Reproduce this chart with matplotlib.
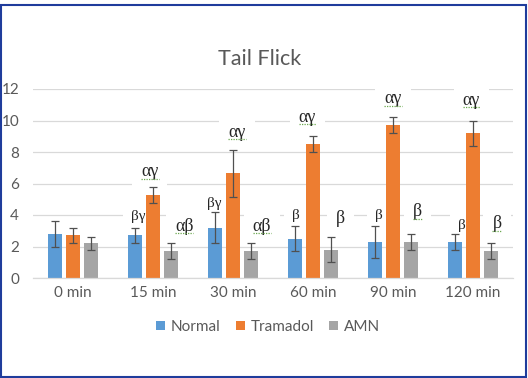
import matplotlib
matplotlib.use("Agg")
import matplotlib.pyplot as plt
import numpy as np
from matplotlib.patches import Rectangle

# ---- data ----
categories = ["0 min", "15 min", "30 min", "60 min", "90 min", "120 min"]
series_names = ["Normal", "Tramadol", "AMN"]
normal = [2.8, 2.7, 3.2, 2.5, 2.3, 2.3]
normal_err = [0.8, 0.5, 1.0, 0.8, 1.0, 0.5]
tramadol = [2.7, 5.25, 6.65, 8.5, 9.7, 9.2]
tramadol_err = [0.5, 0.5, 1.5, 0.5, 0.5, 0.8]
amn = [2.2, 1.7, 1.7, 1.8, 2.3, 1.7]
amn_err = [0.4, 0.5, 0.5, 0.8, 0.5, 0.5]
yticks = [0, 2, 4, 6, 8, 10, 12]

# annotation labels: (category index, text, value level, underlined)
ann_cat = [1, 2, 3, 4, 5, 1, 2, 1, 2, 3, 3, 4, 4, 5, 5]
ann_text = ["αγ", "αγ", "αγ", "αγ", "αγ", "βγ", "βγ", "αβ", "αβ",
            "β", "β", "β", "β", "β", "β"]
ann_level = [6.75, 9.25, 10.2, 11.4, 11.3, 3.9, 4.75, 3.3, 3.3,
             4.0, 3.75, 4.0, 4.2, 3.35, 3.45]
ann_under = [True, True, True, True, True, False, False, True, True,
             False, False, False, True, False, True]
# layout offsets for annotation (relative to category centre) and sizes
ann_dx = [-0.04, 0.05, -0.07, 0.0, -0.02, -0.19, -0.24, 0.39, 0.36,
          -0.22, 0.34, -0.18, 0.31, -0.14, 0.3]
ann_size = [13, 13, 13, 13, 13, 11, 11, 13, 13, 11, 13, 11, 13, 11, 13]

colors = ["#5B9BD5", "#ED7D31", "#A5A5A5"]
text_col = "#595959"

fig = plt.figure(figsize=(5.28, 3.78), dpi=100)
W, H = 528, 378
ax = fig.add_axes([33 / W, 1 - 278 / H, 480 / W, 189 / H])

x = np.arange(len(categories))
width = 0.185
pitch = 0.225
vals = [normal, tramadol, amn]
errs = [normal_err, tramadol_err, amn_err]
for k in range(3):
    ax.bar(x + (k - 1) * pitch, vals[k], width, color=colors[k],
           label=series_names[k], zorder=2)
    ax.errorbar(x + (k - 1) * pitch, vals[k], yerr=errs[k], fmt="none",
                ecolor="#505050", elinewidth=0.9, capsize=2.8,
                capthick=0.9, zorder=3)

ax.set_xlim(-0.5, len(categories) - 0.5)
ax.set_ylim(0, 12)
ax.set_yticks(yticks)
ax.set_xticks(x)
ax.set_xticklabels(categories)
ax.yaxis.grid(True, color="#D9D9D9", lw=0.9, zorder=0)
ax.set_axisbelow(True)
for s in ["top", "right", "left"]:
    ax.spines[s].set_visible(False)
ax.spines["bottom"].set_color("#D9D9D9")
ax.spines["bottom"].set_linewidth(0.9)
ax.tick_params(length=0, labelsize=11, labelcolor=text_col)
ax.tick_params(axis="y", pad=10)
ax.tick_params(axis="x", pad=6)
for lab in ax.get_xticklabels() + ax.get_yticklabels():
    lab.set_fontfamily("Lato")

for i in range(len(ann_text)):
    xx = ann_cat[i] + ann_dx[i]
    ax.text(xx, ann_level[i], ann_text[i], ha="center", va="center",
            fontsize=ann_size[i], family="Liberation Serif",
            color="#262626", zorder=1.5,
            bbox=dict(boxstyle="square,pad=0.5", fc="white", ec="none"))
    if ann_under[i]:
        hw = 0.11 if len(ann_text[i]) > 1 else 0.06
        yy = ann_level[i] - 0.45
        ax.plot([xx - hw, xx + hw], [yy, yy], ls=(0, (1, 1)),
                color="#6BA84F", lw=0.9, zorder=1.6)

fig.text(260 / W, 1 - 59 / H, "Tail Flick", ha="center", va="center",
         fontsize=15.5, color=text_col, family="Lato")

leg = fig.legend(loc="center", bbox_to_anchor=(268 / W, 1 - 327 / H), ncol=3,
                 frameon=False, handlelength=0.6, handleheight=0.6,
                 handletextpad=0.35, columnspacing=1.0,
                 prop={"family": "Lato", "size": 11})
for t in leg.get_texts():
    t.set_color(text_col)

fig.patches.append(Rectangle((0.5 / W, 1 / H), 525.5 / W, 372.5 / H,
                             transform=fig.transFigure, fill=False,
                             ec="#1F3C9C", lw=1.5))

fig.savefig("out.png", dpi=100)
